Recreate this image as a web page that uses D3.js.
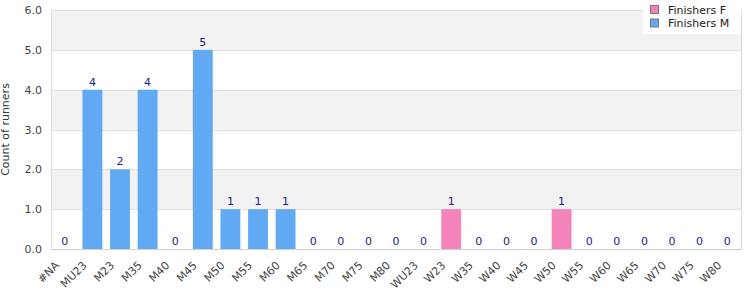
<!DOCTYPE html>
<html>
<head>
<meta charset="utf-8">
<script src="https://cdn.jsdelivr.net/npm/d3@7"></script>
<style>
  body { margin: 0; background: #fff; }
  svg text { font-family: "DejaVu Sans", sans-serif; }
</style>
</head>
<body>
<div id="chart"></div>
<script>
// Age categories and finishers per category
const categories = ["#NA", "MU23", "M23", "M35", "M40", "M45", "M50", "M55", "M60", "M65", "M70", "M75", "M80",
    "WU23", "W23", "W35", "W40", "W45", "W50", "W55", "W60", "W65", "W70", "W75", "W80"];
const finishersF = [0, 0, 0, 0, 0, 0, 0, 0, 0, 0, 0, 0, 0, 0, 1, 0, 0, 0, 1, 0, 0, 0, 0, 0, 0];
const finishersM = [0, 4, 2, 4, 0, 5, 1, 1, 1, 0, 0, 0, 0, 0, 0, 0, 0, 0, 0, 0, 0, 0, 0, 0, 0];
const yTicks = [0, 1, 2, 3, 4, 5, 6];
const seriesNames = ["Finishers F", "Finishers M"];
const colors = { "Finishers F": "#f383b9", "Finishers M": "#61a9f3" };

const width = 750, height = 300;
const margin = { top: 10, right: 9, bottom: 51, left: 51 };

const svg = d3.select("#chart").append("svg")
    .attr("width", width)
    .attr("height", height);

const rows = categories.map((c, i) => ({
    cat: c,
    "Finishers F": finishersF[i],
    "Finishers M": finishersM[i]
}));

const x = d3.scaleBand()
    .domain(categories)
    .range([margin.left, width - margin.right])
    .paddingInner(0.28)
    .paddingOuter(0.14);

const y = d3.scaleLinear()
    .domain([0, 6])
    .range([height - margin.bottom, margin.top]);

// alternating bands
svg.append("g")
    .selectAll("rect")
    .data(yTicks.slice(0, -1))
    .enter()
    .append("rect")
    .attr("x", margin.left)
    .attr("width", width - margin.right - margin.left)
    .attr("y", d => y(d + 1))
    .attr("height", d => y(d) - y(d + 1))
    .attr("fill", d => d % 2 === 1 ? "#f2f2f2" : "#ffffff");

// grid lines
svg.append("g")
    .selectAll("line")
    .data(yTicks)
    .enter()
    .append("line")
    .attr("x1", margin.left)
    .attr("x2", width - margin.right)
    .attr("y1", d => Math.round(y(d)) + 0.5)
    .attr("y2", d => Math.round(y(d)) + 0.5)
    .attr("stroke", "#e0e0e0");

// plot frame (left, right)
svg.append("line")
    .attr("x1", margin.left + 0.5).attr("x2", margin.left + 0.5)
    .attr("y1", margin.top).attr("y2", height - margin.bottom)
    .attr("stroke", "#dcdcdc");
svg.append("line")
    .attr("x1", width - margin.right + 0.5).attr("x2", width - margin.right + 0.5)
    .attr("y1", margin.top).attr("y2", height - margin.bottom)
    .attr("stroke", "#dcdcdc");

// stacked bars
const stack = d3.stack().keys(seriesNames);
const stacked = stack(rows);

svg.append("g")
    .selectAll("g")
    .data(stacked)
    .enter()
    .append("g")
    .attr("fill", d => colors[d.key])
    .selectAll("rect")
    .data(d => d)
    .enter()
    .append("rect")
    .attr("x", d => x(d.data.cat))
    .attr("width", x.bandwidth())
    .attr("y", d => y(d[1]))
    .attr("height", d => y(d[0]) - y(d[1]));

// bottom axis line
svg.append("line")
    .attr("x1", margin.left).attr("x2", width - margin.right + 1)
    .attr("y1", y(0) + 0.5).attr("y2", y(0) + 0.5)
    .attr("stroke", "#d0d0d0");

// value labels
svg.append("g")
    .selectAll("text")
    .data(rows)
    .enter()
    .append("text")
    .attr("x", d => x(d.cat) + x.bandwidth() / 2)
    .attr("y", d => y(d["Finishers F"] + d["Finishers M"]) - 4)
    .attr("text-anchor", "middle")
    .attr("font-size", 11)
    .attr("fill", "#1c1c8c")
    .text(d => d["Finishers F"] + d["Finishers M"]);

// y axis labels
svg.append("g")
    .selectAll("text")
    .data(yTicks)
    .enter()
    .append("text")
    .attr("x", margin.left - 9)
    .attr("y", d => y(d) + 4)
    .attr("text-anchor", "end")
    .attr("font-size", 11)
    .attr("fill", "#444")
    .text(d => d.toFixed(1));

svg.append("text")
    .attr("transform", `translate(9,${(margin.top + height - margin.bottom) / 2}) rotate(-90)`)
    .attr("text-anchor", "middle")
    .attr("font-size", 11)
    .attr("fill", "#333")
    .text("Count of runners");

// x axis labels
svg.append("g")
    .selectAll("text")
    .data(categories)
    .enter()
    .append("text")
    .attr("transform", d => `translate(${x(d) + x.bandwidth() / 2 - 5},${y(0) + 17}) rotate(-45)`)
    .attr("text-anchor", "end")
    .attr("font-size", 11)
    .attr("fill", "#444")
    .text(d => d);

// legend
const legend = svg.append("g");
legend.append("rect")
    .attr("x", 643).attr("y", 0)
    .attr("width", 98).attr("height", 34)
    .attr("fill", "#fff");
seriesNames.forEach((s, i) => {
    legend.append("rect")
        .attr("x", 650.5).attr("y", 5.5 + i * 13.5)
        .attr("width", 8).attr("height", 8)
        .attr("fill", colors[s])
        .attr("stroke", "#777");
    legend.append("text")
        .attr("x", 668).attr("y", 13.5 + i * 13.5)
        .attr("font-size", 11)
        .attr("fill", "#222")
        .text(s);
});
</script>
</body>
</html>
